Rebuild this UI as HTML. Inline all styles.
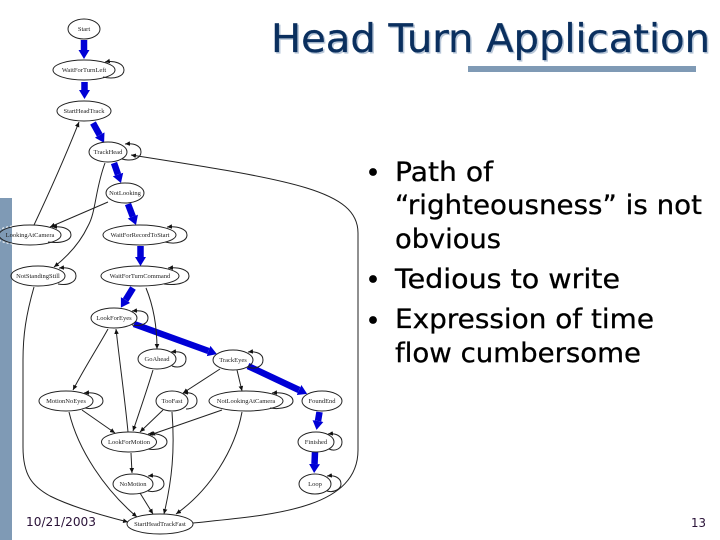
<!DOCTYPE html>
<html><head><meta charset="utf-8"><style>
html,body{margin:0;padding:0;background:#fff;width:720px;height:540px;overflow:hidden}
svg{display:block}
.n{fill:none;stroke:#222;stroke-width:1}
.e{fill:none;stroke:#222;stroke-width:1;marker-end:url(#a)}
.b{fill:none;stroke:#0000d6;stroke-width:6.5;marker-end:url(#ab)}
.l{font-family:"Liberation Serif",serif;font-size:6.5px;fill:#222;text-anchor:middle}
.t{font-family:"DejaVu Sans",sans-serif;font-size:27px;fill:#000;stroke:#000;stroke-width:.3;font-variant-ligatures:none}
.h{font-family:"DejaVu Sans",sans-serif;font-size:39px;fill:#0a2f5e;stroke:#0a2f5e;stroke-width:.3}
.f{font-family:"DejaVu Sans",sans-serif;font-size:12.5px;fill:#2a1238}
</style></head><body>
<svg xmlns="http://www.w3.org/2000/svg" width="720" height="540" viewBox="0 0 720 540">
<defs>
<marker id="a" markerUnits="userSpaceOnUse" markerWidth="6" markerHeight="6" refX="5" refY="2.5" orient="auto"><path d="M0,0.2L5,2.5L0,4.8z" fill="#111"/></marker>
<marker id="ab" markerUnits="userSpaceOnUse" markerWidth="10" markerHeight="12" refX="0" refY="6" orient="auto"><path d="M0,0.5L9,6L0,11.5z" fill="#0000d6"/></marker>
</defs>
<rect width="720" height="540" fill="#fff"/>
<rect x="0" y="198" width="12" height="342" fill="#7f9ab5"/>
<rect x="468" y="66" width="228" height="6" fill="#7f9ab5"/>

<text x="272.500" y="53.5" class="h" textLength="439" lengthAdjust="spacingAndGlyphs" style="fill:#b9c7d8;stroke:#b9c7d8">Head Turn Application</text>
<text class="h" x="271" y="52" textLength="439" lengthAdjust="spacingAndGlyphs">Head Turn Application</text>

<circle cx="373" cy="172" r="3.9" fill="#000"/>
<circle cx="373" cy="279" r="3.9" fill="#000"/>
<circle cx="373" cy="320" r="3.9" fill="#000"/>
<text class="t" x="395" y="181" textLength="98" lengthAdjust="spacingAndGlyphs">Path of</text>
<text class="t" x="395" y="214" textLength="307" lengthAdjust="spacingAndGlyphs">“righteousness” is not</text>
<text class="t" x="395" y="248" textLength="106" lengthAdjust="spacingAndGlyphs">obvious</text>
<text class="t" x="395" y="288" textLength="225" lengthAdjust="spacingAndGlyphs">Tedious to write</text>
<text class="t" x="395" y="328" textLength="259" lengthAdjust="spacingAndGlyphs">Expression of time</text>
<text class="t" x="395" y="362" textLength="246" lengthAdjust="spacingAndGlyphs">flow cumbersome</text>

<text class="f" x="26" y="526" textLength="70" lengthAdjust="spacingAndGlyphs">10/21/2003</text>
<text class="f" x="691" y="527" textLength="15" lengthAdjust="spacingAndGlyphs">13</text>

<!-- thick blue path -->
<path class="b" d="M84,40L84,50"/>
<path class="b" d="M84.5,82L84.5,90"/>
<path class="b" d="M93,123L99.7,135"/>
<path class="b" d="M114,163L118,174.5"/>
<path class="b" d="M128,204L132.8,216.6"/>
<path class="b" d="M140.5,246L140.5,257"/>
<path class="b" d="M133,288L125.6,300"/>
<path class="b" d="M134,324L208.5,351"/>
<path class="b" d="M248,366L299,390"/>
<path class="b" d="M319.5,412L318,421"/>
<path class="b" d="M315,452L314.5,464"/>

<!-- thin edges -->
<path class="e" d="M34,225C42,208 62,165 79,122"/>
<path class="e" d="M193,523C270,515 358,510 358,450L358,233C358,190 290,180 131,155"/>
<path class="e" d="M105,163C95,190 96,212 88,226C80,243 68,256 54,267"/>
<path class="e" d="M108,202L50,227"/>
<path class="e" d="M34,287C26,315 23,335 23,360L23,447C23,475 32,486 50,496C70,506 100,515 128,522"/>
<path class="e" d="M146,288C153,305 157,325 157,349"/>
<path class="e" d="M108,329C98,347 85,367 73,390"/>
<path class="e" d="M128,432C125,400 120,365 116,329"/>
<path class="e" d="M153,370C147,390 140,410 133,431"/>
<path class="e" d="M163,410L140,432"/>
<path class="e" d="M220,369L183,393"/>
<path class="e" d="M237,370L242,391"/>
<path class="e" d="M222,410L150,435"/>
<path class="e" d="M82,410L115,433"/>
<path class="e" d="M69,412C78,450 105,490 137,517"/>
<path class="e" d="M131,453L132,473"/>
<path class="e" d="M140,493L153,514"/>
<path class="e" d="M172,412C175,450 172,480 164,514"/>
<path class="e" d="M242,412C235,450 210,490 176,514"/>

<!-- self loops -->
<path class="e" d="M103,77C115,80 124,76 124,70C124,64 115,60 105,62"/>
<path class="e" d="M122,159C133,162 141,158 141,152C141,146 135,143 125,144"/>
<path class="e" d="M165,242C177,245 187,241 187,235C187,229 178,226 167,227"/>
<path class="e" d="M164,284C178,286 189,282 189,276C189,270 180,267 168,268"/>
<path class="e" d="M48,242C62,244 71,240 71,235C71,229 63,226 52,227"/>
<path class="e" d="M58,284C68,286 76,282 76,276C76,270 69,267 59,268"/>
<path class="e" d="M132,325C142,327 148,323 148,318C148,312 142,310 132,311"/>
<path class="e" d="M172,366C180,369 186,365 186,359C186,353 180,351 171,352"/>
<path class="e" d="M248,367C256,370 263,366 263,360C263,354 257,351 248,352"/>
<path class="e" d="M85,408C94,410 103,406 103,401C103,395 95,392 84,393"/>
<path class="e" d="M186,409C192,409 197,406 197,401C197,395 192,392 183,393"/>
<path class="e" d="M270,408C282,410 293,406 293,401C293,395 283,392 272,393"/>
<path class="e" d="M148,449C158,451 167,447 167,442C167,436 158,433 148,434"/>
<path class="e" d="M329,449C336,452 342,448 342,442C342,436 336,433 328,434"/>
<path class="e" d="M148,491C156,493 164,489 164,484C164,478 157,475 148,476"/>
<path class="e" d="M327,491C334,493 341,489 341,484C341,478 335,475 327,476"/>

<!-- nodes -->
<g class="n">
<ellipse cx="84" cy="29" rx="16" ry="10"/>
<ellipse cx="84" cy="70" rx="31" ry="10"/>
<ellipse cx="84" cy="111" rx="27" ry="10"/>
<ellipse cx="108" cy="152" rx="19" ry="10"/>
<ellipse cx="125" cy="193" rx="19" ry="10"/>
<ellipse cx="139.500" cy="235" rx="36.500" ry="10"/>
<ellipse cx="140" cy="276" rx="39" ry="10"/>
<ellipse cx="114" cy="318" rx="23" ry="10"/>
<ellipse cx="30" cy="235" rx="31" ry="10"/>
<ellipse cx="38" cy="276" rx="27" ry="10"/>
<ellipse cx="157" cy="359" rx="19" ry="10"/>
<ellipse cx="233" cy="360" rx="20" ry="10"/>
<ellipse cx="66" cy="401" rx="27" ry="10"/>
<ellipse cx="172" cy="401" rx="16" ry="10"/>
<ellipse cx="246" cy="401" rx="37" ry="10"/>
<ellipse cx="322" cy="401" rx="20" ry="10"/>
<ellipse cx="129" cy="442" rx="27.500" ry="10"/>
<ellipse cx="316" cy="442" rx="18" ry="10"/>
<ellipse cx="133" cy="484" rx="20" ry="10"/>
<ellipse cx="315" cy="484" rx="16" ry="10"/>
<ellipse cx="160" cy="524" rx="33" ry="10"/>
</g>
<path d="M12,226A31,10 0 0 0 12,244" fill="none" stroke="#fff" stroke-width="1" stroke-dasharray="2 2"/>
<text class="l" x="84" y="72">WaitForTurnLeft</text>
<text class="l" x="84" y="31">Start</text>
<text class="l" x="84" y="113">StartHeadTrack</text>
<text class="l" x="108" y="154">TrackHead</text>
<text class="l" x="125" y="195">NotLooking</text>
<text class="l" x="140" y="237">WaitForRecordToStart</text>
<text class="l" x="140" y="278">WaitForTurnCommand</text>
<text class="l" x="114" y="320">LookForEyes</text>
<text class="l" x="30" y="237">LookingAtCamera</text>
<text class="l" x="38" y="278">NotStandingStill</text>
<text class="l" x="157" y="361">GoAhead</text>
<text class="l" x="233" y="362">TrackEyes</text>
<text class="l" x="66" y="403">MotionNoEyes</text>
<text class="l" x="172" y="403">TooFast</text>
<text class="l" x="246" y="403">NotLookingAtCamera</text>
<text class="l" x="322" y="403">FoundEnd</text>
<text class="l" x="129" y="444">LookForMotion</text>
<text class="l" x="316" y="444">Finished</text>
<text class="l" x="133" y="486">NoMotion</text>
<text class="l" x="315" y="486">Loop</text>
<text class="l" x="160" y="526">StartHeadTrackFast</text>
</svg>
</body></html>
